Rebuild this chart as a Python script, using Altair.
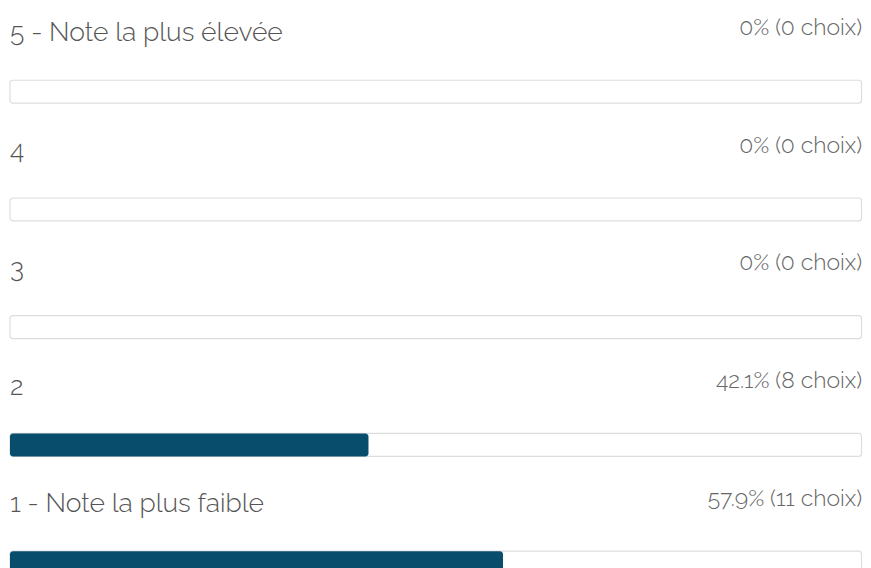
import altair as alt
import pandas as pd

labels = ["5 - Note la plus élevée", "4", "3", "2", "1 - Note la plus faible"]
percents = [0, 0, 0, 42.1, 57.9]
counts = [0, 0, 0, 8, 11]
pct_labels = ["0%", "0%", "0%", "42.1%", "57.9%"]

df = pd.DataFrame({
    "row": list(range(len(labels))),
    "label": labels,
    "pct": percents,
    "full": [100] * len(labels),
    "text": [f"{p} ({c} choix)" for p, c in zip(pct_labels, counts)],
})

FONT = "Raleway, Lato, sans-serif"

xs = alt.Scale(domain=[0, 100], range=[2, 854.5], nice=False, zero=False, padding=0)
ys = alt.Scale(domain=[0, 4], range=[83.5, 555], nice=False, zero=False, padding=0)

base = alt.Chart(df)

track = base.mark_bar(orient="horizontal", height=23, cornerRadius=3,
                      fill="white", stroke="#dddddd", strokeWidth=1.2).encode(
    x=alt.X("full:Q", scale=xs, axis=None),
    x2=alt.datum(0),
    y=alt.Y("row:Q", scale=ys, axis=None),
)

fill = base.mark_bar(orient="horizontal", height=23, cornerRadius=3,
                     fill="#084d6c").encode(
    x=alt.X("pct:Q", scale=xs, axis=None),
    x2=alt.datum(0),
    y=alt.Y("row:Q", scale=ys, axis=None),
)

lab = base.mark_text(align="left", baseline="alphabetic", dy=-50.5,
                     font=FONT, fontSize=26.5, fontWeight=300, color="#555555").encode(
    x=alt.datum(0, scale=xs),
    y=alt.Y("row:Q", scale=ys, axis=None),
    text="label:N",
)

pct = base.mark_text(align="right", baseline="alphabetic", dy=-57, dx=0.5,
                     font=FONT, fontSize=23, fontWeight=300, color="#666666").encode(
    x=alt.datum(100, scale=xs),
    y=alt.Y("row:Q", scale=ys, axis=None),
    text="text:N",
)

chart = alt.layer(track, fill, lab, pct).properties(
    width=855, height=560, padding=0
).configure_view(stroke=None)

chart.save("out.html", embed_options={"renderer": "svg", "actions": False})
